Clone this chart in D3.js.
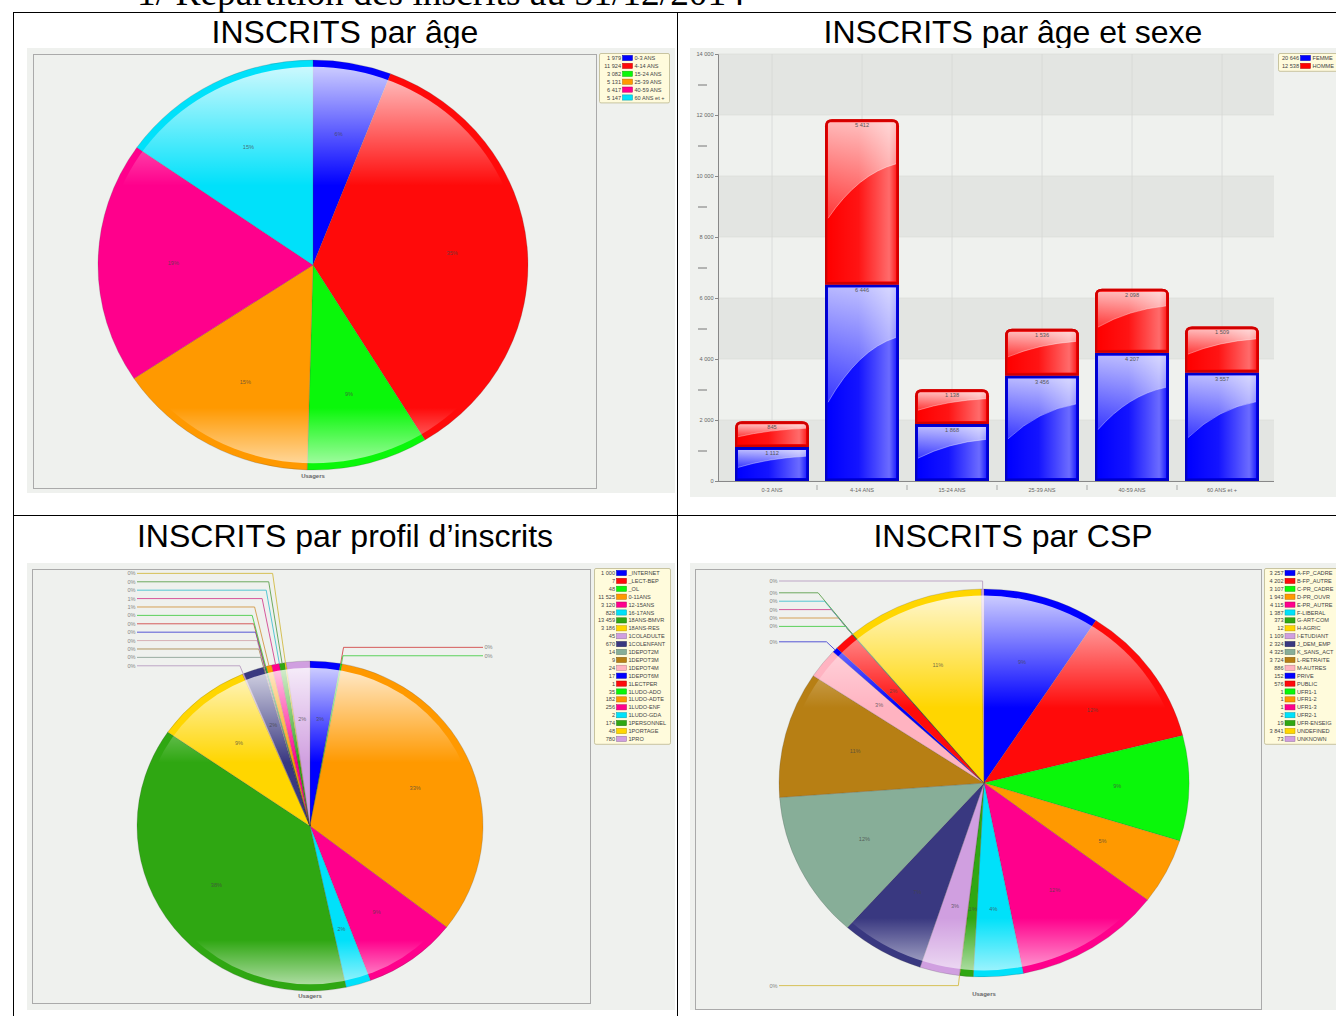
<!DOCTYPE html>
<html>
<head>
<meta charset="utf-8">
<script src="https://cdn.jsdelivr.net/npm/d3@7"></script>
<style>
body { margin: 0; background: #fff; }
svg { display: block; }
</style>
</head>
<body>
<script>
// ---- data ----
var ageLabels = ["0-3 ANS", "4-14 ANS", "15-24 ANS", "25-39 ANS", "40-59 ANS", "60 ANS et +"];
var ageCounts = [1979, 11924, 3082, 5131, 6417, 5147];

var sexKeys = ["FEMME", "HOMME"];
var sexTotals = [20646, 12538];
var femmeValues = [1112, 6446, 1868, 3456, 4207, 3557];
var hommeValues = [845, 5412, 1138, 1536, 2098, 1509];
var barTicks = [0, 2000, 4000, 6000, 8000, 10000, 12000, 14000];
var barMinorTicks = [1000, 3000, 5000, 7000, 9000, 11000, 13000];

var profilLabels = ["_INTERNET", "_LECT-BEP", "_OL", "0-11ANS", "12-15ANS", "16-17ANS", "18ANS-BMVR",
    "18ANS-RES", "1COLADULTE", "1COLENFANT", "1DEPOT2M", "1DEPOT3M", "1DEPOT4M", "1DEPOT6M",
    "1LECTPER", "1LUDO-ADO", "1LUDO-ADTE", "1LUDO-ENF", "1LUDO-GDA", "1PERSONNEL", "1PORTAGE", "1PRO"];
var profilCounts = [1000, 7, 48, 11525, 3120, 828, 13459, 3186, 45, 670, 14, 9, 24, 17, 1, 35, 182, 256, 2, 174, 48, 780];

var cspLabels = ["A-FP_CADRE", "B-FP_AUTRE", "C-PR_CADRE", "D-PR_OUVR", "E-PR_AUTRE", "F-LIBERAL",
    "G-ART-COM", "H-AGRIC", "I-ETUDIANT", "J_DEM_EMP", "K_SANS_ACT", "L-RETRAITE", "M-AUTRES",
    "PRIVE", "PUBLIC", "UFR1-1", "UFR1-2", "UFR1-3", "UFR2-1", "UFR-ENSEIG", "UNDEFINED", "UNKNOWN"];
var cspCounts = [3257, 4202, 3107, 1943, 4115, 1387, 373, 12, 1109, 2324, 4325, 3724, 886, 152, 576, 1, 1, 1, 2, 19, 3841, 73];

var palette = ["#0000ff", "#ff0a0a", "#0af70a", "#ff9900", "#ff008c", "#00e1fa", "#2fa712",
    "#ffd600", "#d09fe0", "#393880", "#87ae98", "#b77f14", "#ffb3c1"];

var fr = d3.formatLocale({decimal: ",", thousands: " ", grouping: [3], currency: ["", ""]});
var fmt = fr.format(",d");
var small = "Liberation Sans, Arial, sans-serif";

var svg = d3.select("body").append("svg").attr("width", 1336).attr("height", 1016);
var defs = svg.append("defs");

function gradient(id, x2, y2, stops) {
    var lg = defs.append("linearGradient").attr("id", id)
        .attr("x1", 0).attr("y1", 0).attr("x2", x2).attr("y2", y2);
    stops.forEach(function (s) {
        lg.append("stop").attr("offset", s[0]).attr("stop-color", "#fff").attr("stop-opacity", s[1]);
    });
}
gradient("pieGloss", 0, 1, [[0, 0.8], [0.3, 0], [0.86, 0], [1, 0.6]]);
gradient("barSide", 1, 0, [[0, 0], [0.45, 0.08], [0.9, 0.42], [1, 0.15]]);
gradient("barTop", 0, 1, [[0, 0.72], [1, 0.22]]);

// ---- page frame ----
svg.append("text").attr("x", 137).attr("y", 5)
    .attr("font-family", "Liberation Serif, Times New Roman, serif").attr("font-size", 37)
    .attr("textLength", 608).attr("lengthAdjust", "spacingAndGlyphs")
    .text("1/ Répartition des inscrits au 31/12/2014");

var frame = [[13, 12, 1336, 12], [13, 515, 1336, 515], [13, 12, 13, 1016], [677, 12, 677, 1016]];
svg.selectAll("line.frame").data(frame).enter().append("line")
    .attr("x1", function (d) { return d[0]; }).attr("y1", function (d) { return d[1]; })
    .attr("x2", function (d) { return d[2]; }).attr("y2", function (d) { return d[3]; })
    .attr("stroke", "#000").attr("stroke-width", 1).attr("shape-rendering", "crispEdges");

var titles = [["INSCRITS par âge", 345, 43], ["INSCRITS par âge et sexe", 1013, 43],
    ["INSCRITS par profil d’inscrits", 345, 547], ["INSCRITS par CSP", 1013, 547]];
titles.forEach(function (t) {
    svg.append("text").attr("x", t[1]).attr("y", t[2]).attr("text-anchor", "middle")
        .attr("font-family", small).attr("font-size", 32).text(t[0]);
});

function panel(x, y, w, h, box) {
    svg.append("rect").attr("x", x).attr("y", y).attr("width", w).attr("height", h).attr("fill", "#eff1ee");
    if (box)
        svg.append("rect").attr("x", box[0] + 0.5).attr("y", box[1] + 0.5).attr("width", box[2]).attr("height", box[3])
            .attr("fill", "none").attr("stroke", "#aaa");
}
panel(27, 48, 648, 445, [33, 54, 563, 434]);
panel(690, 48, 646, 449, null);
panel(27, 563, 648, 447, [32, 569, 558, 434]);
panel(690, 563, 646, 447, [695, 569, 566, 440]);

// ---- legends ----
function legend(x, y, w, values, labels, colors, valueW) {
    var rowH = 7.9;
    var g = svg.append("g").attr("transform", "translate(" + x + "," + y + ")");
    g.append("rect").attr("x", 0.5).attr("y", 0.5).attr("width", w).attr("height", labels.length * rowH + 2)
        .attr("fill", "#fffbdc").attr("stroke", "#c8c4a0").attr("rx", 1.5);
    labels.forEach(function (lab, i) {
        var cy = 5 + i * rowH;
        g.append("text").attr("x", valueW).attr("y", cy + 2).attr("text-anchor", "end")
            .attr("font-family", small).attr("font-size", 5.6).attr("fill", "#444").text(fmt(values[i]));
        g.append("rect").attr("x", valueW + 1.5).attr("y", cy - 2.6).attr("width", 10).attr("height", 5.2)
            .attr("fill", colors[i]).attr("stroke", d3.color(colors[i]).darker(1)).attr("stroke-width", 0.5);
        g.append("text").attr("x", valueW + 13.5).attr("y", cy + 2)
            .attr("font-family", small).attr("font-size", 5.6).attr("fill", "#444").text(lab);
    });
}
function colorsFor(n) { return d3.range(n).map(function (i) { return palette[i % palette.length]; }); }

// ---- pies ----
function drawPie(o) {
    var total = d3.sum(o.counts);
    var arcs = d3.pie().sort(null).value(function (d) { return d; })(o.counts);
    var k = o.ry / o.rx;
    var g = svg.append("g").attr("transform", "translate(" + o.cx + "," + o.cy + ") scale(1," + k + ")");
    var arc = d3.arc().innerRadius(0).outerRadius(o.rx);
    g.selectAll("path").data(arcs).enter().append("path")
        .attr("d", arc)
        .attr("fill", function (d, i) { return palette[i % palette.length]; })
        .attr("stroke", "rgba(70,70,70,0.35)").attr("stroke-width", 0.6);
    g.append("circle").attr("r", o.rx - 7).attr("fill", "url(#pieGloss)");

    // labels
    var outside = [];
    arcs.forEach(function (d, i) {
        var f = d.value / total;
        var a = (d.startAngle + d.endAngle) / 2;
        var s = Math.sin(a), c = Math.cos(a);
        if (f >= 0.01) {
            svg.append("text").attr("x", o.cx + 0.65 * o.rx * s).attr("y", o.cy - 0.65 * o.ry * c + 2)
                .attr("text-anchor", "middle").attr("font-family", small).attr("font-size", 5.6)
                .attr("fill", "#444").attr("fill-opacity", 0.75).text(Math.round(f * 100) + "%");
        } else {
            var px = o.cx + o.rx * s, py = o.cy - o.ry * c;
            outside.push({i: i, f: f, s: s, c: c, px: px, py: py, left: s < 0, top: c > 0,
                want: c > 0 ? py - 8 : py + 10});
        }
    });
    [[true, true], [false, true], [true, false], [false, false]].forEach(function (grp) {
        var list = outside.filter(function (d) { return d.left === grp[0] && d.top === grp[1]; });
        if (grp[1]) {
            list.sort(function (a, b) { return b.py - a.py; });
            var prev = Infinity;
            list.forEach(function (d) { d.y = Math.min(d.want, prev - 8.4); prev = d.y; });
        } else {
            list.sort(function (a, b) { return a.py - b.py; });
            var prevB = -Infinity;
            list.forEach(function (d) { d.y = Math.max(d.want, prevB + 8.4); prevB = d.y; });
        }
    });
    outside.forEach(function (d) {
        var t = (d.y - d.py) / (-d.c);
        var ex = d.px + t * d.s;
        var edge = d.left ? o.cx - o.rx : o.cx + o.rx;
        var col = d3.interpolateRgb(palette[d.i % palette.length], "#9a9a9a")(0.45);
        svg.append("path").attr("d", "M" + d.px + "," + d.py + "L" + ex + "," + d.y + "L" + edge + "," + d.y)
            .attr("fill", "none").attr("stroke", col).attr("stroke-width", 0.9);
        svg.append("text").attr("x", d.left ? edge - 1.5 : edge + 1.5).attr("y", d.y + 2)
            .attr("text-anchor", d.left ? "end" : "start").attr("font-family", small).attr("font-size", 5.6)
            .attr("fill", "#888").text(Math.round(d.f * 100) + "%");
    });
    svg.append("text").attr("x", o.cx).attr("y", o.usagersY).attr("text-anchor", "middle")
        .attr("font-family", small).attr("font-size", 6).attr("font-weight", "bold").attr("fill", "#666")
        .text("Usagers");
}

drawPie({cx: 313, cy: 265, rx: 215, ry: 205, counts: ageCounts, usagersY: 478});
legend(599, 53, 70, ageCounts, ageLabels, colorsFor(ageLabels.length), 22);

drawPie({cx: 310, cy: 826, rx: 173, ry: 165, counts: profilCounts, usagersY: 998});
legend(594, 568, 76, profilCounts, profilLabels, colorsFor(profilLabels.length), 21);

drawPie({cx: 984, cy: 783, rx: 205, ry: 194, counts: cspCounts, usagersY: 996});
legend(1264, 568, 80, cspCounts, cspLabels, colorsFor(cspLabels.length), 19.5);

// ---- stacked bars ----
var x = d3.scaleBand().domain(ageLabels).range([727, 1267]).paddingInner(0.178).paddingOuter(0.089);
var y = d3.scaleLinear().domain([0, 14000]).range([481, 54]);
var plotL = 718, plotR = 1274;

var bands = barTicks.slice(0, -1).filter(function (d, i) { return i % 2 === 0; });
svg.selectAll("rect.band").data(bands).enter().append("rect")
    .attr("x", plotL).attr("width", plotR - plotL)
    .attr("y", function (d) { return y(d + 2000); })
    .attr("height", function (d) { return y(d) - y(d + 2000); })
    .attr("fill", "#e3e5e2");
svg.selectAll("line.hgrid").data(barTicks).enter().append("line")
    .attr("x1", plotL).attr("x2", plotR)
    .attr("y1", function (d) { return y(d); }).attr("y2", function (d) { return y(d); })
    .attr("stroke", "#d8dad7").attr("stroke-width", 0.6);
svg.selectAll("line.vgrid").data(ageLabels).enter().append("line")
    .attr("x1", function (d) { return x(d) + x.bandwidth() / 2; })
    .attr("x2", function (d) { return x(d) + x.bandwidth() / 2; })
    .attr("y1", 54).attr("y2", 481).attr("stroke", "#d6d8d5").attr("stroke-width", 0.8);

var yAxis = svg.append("g").attr("transform", "translate(" + plotL + ",0)")
    .call(d3.axisLeft(y).tickValues(barTicks).tickFormat(fmt).tickSize(3));
yAxis.select(".domain").attr("stroke", "#888");
yAxis.selectAll(".tick line").attr("stroke", "#888");
yAxis.selectAll("text").attr("font-family", small).attr("font-size", 5.6).attr("fill", "#666").attr("dx", 1.5);

var yMinor = svg.append("g").attr("transform", "translate(707,0)")
    .call(d3.axisLeft(y).tickValues(barMinorTicks).tickFormat("").tickSize(9));
yMinor.select(".domain").remove();
yMinor.selectAll(".tick line").attr("stroke", "#777").attr("stroke-width", 1);

svg.append("line").attr("x1", plotL).attr("x2", plotR).attr("y1", 481.5).attr("y2", 481.5).attr("stroke", "#888");

var xAxis = svg.append("g").attr("transform", "translate(0,481)")
    .call(d3.axisBottom(x).tickSize(0).tickPadding(7));
xAxis.select(".domain").remove();
xAxis.selectAll("text").attr("font-family", small).attr("font-size", 5.6).attr("fill", "#666");
svg.selectAll("line.sep").data(ageLabels.slice(1)).enter().append("line")
    .attr("x1", function (d) { return x(d) - (x.step() - x.bandwidth()) / 2; })
    .attr("x2", function (d) { return x(d) - (x.step() - x.bandwidth()) / 2; })
    .attr("y1", 485).attr("y2", 490).attr("stroke", "#888").attr("stroke-width", 0.7);

var table = ageLabels.map(function (a, i) { return {age: a, FEMME: femmeValues[i], HOMME: hommeValues[i]}; });
var series = d3.stack().keys(sexKeys)(table);
var sexColors = ["#0000ff", "#ff0000"];

function segPath(x0, y0, w, h, r) {
    return "M" + x0 + "," + (y0 + h) + "V" + (y0 + r) + "Q" + x0 + "," + y0 + " " + (x0 + r) + "," + y0 +
        "H" + (x0 + w - r) + "Q" + (x0 + w) + "," + y0 + " " + (x0 + w) + "," + (y0 + r) + "V" + (y0 + h) + "Z";
}

series.forEach(function (s, si) {
    var base = sexColors[si];
    var dark = si === 0 ? "#0000c8" : "#d00000";
    var g = svg.append("g");
    s.forEach(function (d) {
        var bx = x(d.data.age), bw = x.bandwidth();
        var top = y(d[1]), bot = y(d[0]), h = bot - top;
        var r = si === 1 ? 7 : 0;
        g.append("path").attr("d", segPath(bx, top, bw, h, r)).attr("fill", base);
        g.append("rect").attr("x", bx + 3).attr("y", top + 3).attr("width", bw - 6).attr("height", Math.max(0, h - 6))
            .attr("fill", "url(#barSide)");
        var yl = top + 0.6 * h, yr = top + 0.27 * h;
        var curve = "M" + (bx + 3) + "," + yl + "Q" + (bx + bw * 0.45) + "," + (top + 0.33 * h) + " " + (bx + bw - 3) + "," + yr;
        g.append("path").attr("d", curve + "V" + (top + 3) + "H" + (bx + 3) + "Z").attr("fill", "url(#barTop)");
        g.append("path").attr("d", curve).attr("fill", "none").attr("stroke", "#fff").attr("stroke-opacity", 0.45).attr("stroke-width", 0.8);
        g.append("path").attr("d", segPath(bx + 1.2, top + 1.2, bw - 2.4, h - 2.4, Math.max(0, r - 1)))
            .attr("fill", "none").attr("stroke", dark).attr("stroke-width", 2.4);
        g.append("text").attr("x", bx + bw / 2).attr("y", top + 8).attr("text-anchor", "middle")
            .attr("font-family", small).attr("font-size", 5.6).attr("fill", "#555").text(fmt(d.data[s.key]));
    });
});

legend(1278, 53, 64, sexTotals, sexKeys, sexColors, 21);
</script>
</body>
</html>
